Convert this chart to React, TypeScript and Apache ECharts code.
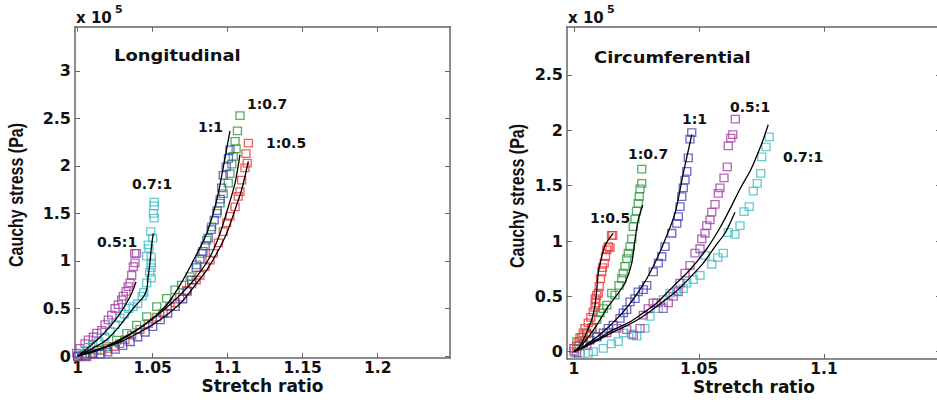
import React, { useEffect, useRef } from "react";
import * as echarts from "echarts";

// ---------- Tick values ----------
const leftXTicks = [1, 1.05, 1.1, 1.15, 1.2];
const leftYTicks = [0, 0.5, 1, 1.5, 2, 2.5, 3];
const rightXTicks = [1, 1.05, 1.1];
const rightYTicks = [0, 0.5, 1, 1.5, 2, 2.5];

// ---------- Longitudinal (stretch ratio, stress x1e5 Pa) ----------
const longMag_05_1 = [
  [0.9993, 0.03], [1.0015, 0.08], [1.003, 0.0], [1.0049, 0.13], [1.006, -0.01], [1.0071, 0.17],
  [1.0085, 0.02], [1.0104, 0.2], [1.0127, 0.24], [1.016, 0.27], [1.0182, 0.33], [1.0204, 0.38],
  [1.0227, 0.43], [1.0249, 0.5], [1.0271, 0.54], [1.0293, 0.59], [1.0304, 0.63], [1.0322, 0.68],
  [1.0337, 0.73], [1.0349, 0.77], [1.036, 0.85], [1.0371, 0.94], [1.0382, 0.98], [1.038, 1.08], [1.0392, 1.08],
];
const longFit_05_1 = [
  [1, 0], [1.005, 0.06], [1.01, 0.13], [1.015, 0.2], [1.0215, 0.31], [1.027, 0.42], [1.0325, 0.555], [1.036, 0.66], [1.0389, 0.78],
];
const longCyan_07_1 = [
  [1.0, -0.01], [1.003, 0.02], [1.006, 0.06], [1.01, 0.11], [1.014, 0.15], [1.018, 0.2], [1.0215, 0.26],
  [1.025, 0.33], [1.028, 0.4], [1.031, 0.44], [1.034, 0.5], [1.037, 0.52], [1.04, 0.55], [1.043, 0.63],
  [1.044, 0.67], [1.046, 0.77], [1.049, 0.82], [1.048, 0.88], [1.049, 0.93], [1.049, 0.98], [1.049, 1.04],
  [1.046, 1.05], [1.0475, 1.13], [1.047, 1.17], [1.05, 1.24], [1.0487, 1.31], [1.051, 1.45], [1.0505, 1.5],
  [1.051, 1.58], [1.051, 1.62],
];
const longFit_07_1 = [
  [1, 0], [1.01, 0.08], [1.0193, 0.17], [1.026, 0.28], [1.0325, 0.41], [1.0385, 0.53], [1.0437, 0.62],
  [1.046, 0.7], [1.047, 0.835], [1.048, 0.96], [1.0487, 1.08], [1.0495, 1.19], [1.0504, 1.29],
];
const longBlue_1_1 = [
  [1.0, 0.0], [1.005, 0.0], [1.01, 0.02], [1.015, 0.02], [1.02, 0.04], [1.025, 0.07], [1.03, 0.11],
  [1.035, 0.15], [1.04, 0.2], [1.045, 0.25], [1.05, 0.31], [1.055, 0.38], [1.06, 0.45], [1.065, 0.52],
  [1.07, 0.6], [1.073, 0.68], [1.076, 0.8], [1.079, 0.93], [1.0815, 1.02], [1.0835, 1.1], [1.085, 1.16],
  [1.087, 1.24], [1.089, 1.33], [1.091, 1.43], [1.093, 1.53], [1.095, 1.65], [1.096, 1.77], [1.097, 1.9],
  [1.099, 1.99], [1.1005, 2.08], [1.1015, 2.17],
];
const longFit_1_1 = [
  [1, 0], [1.01, 0.04], [1.02, 0.1], [1.03, 0.18], [1.04, 0.28], [1.05, 0.4], [1.055, 0.47], [1.06, 0.55],
  [1.068, 0.74], [1.077, 1.0], [1.086, 1.29], [1.0927, 1.64], [1.097, 1.98], [1.1015, 2.37],
];
const longGreen_1_07 = [
  [1.006, 0.028], [1.0127, 0.063], [1.0193, 0.098], [1.026, 0.168], [1.0327, 0.239], [1.0393, 0.326],
  [1.046, 0.414], [1.0527, 0.519], [1.0593, 0.607], [1.0649, 0.695], [1.0693, 0.747], [1.0749, 0.835],
  [1.0793, 0.958], [1.0827, 1.08], [1.086, 1.22], [1.0893, 1.36], [1.0927, 1.5], [1.0949, 1.61],
  [1.097, 1.71], [1.1004, 1.82], [1.1015, 1.92], [1.1027, 2.02], [1.1037, 2.1], [1.1056, 2.18],
  [1.1049, 2.26], [1.1065, 2.37], [1.1082, 2.53],
];
const longFit_1_07 = [
  [1, 0], [1.01, 0.05], [1.02, 0.11], [1.03, 0.19], [1.04, 0.28], [1.05, 0.39], [1.06, 0.52], [1.07, 0.67],
  [1.0793, 0.835], [1.0882, 1.045], [1.0949, 1.29], [1.1004, 1.57], [1.1049, 1.82], [1.1082, 2.12],
];
const longRed_1_05 = [
  [1.0, -0.01], [1.005, 0.01], [1.01, 0.03], [1.016, 0.06], [1.02, 0.08], [1.024, 0.1], [1.028, 0.13],
  [1.0315, 0.17], [1.036, 0.22], [1.0415, 0.28], [1.047, 0.34], [1.0527, 0.41], [1.057, 0.45],
  [1.0615, 0.52], [1.065, 0.56], [1.068, 0.62], [1.0727, 0.69], [1.076, 0.76], [1.079, 0.8],
  [1.0815, 0.85], [1.0849, 0.94], [1.0882, 1.01], [1.0904, 1.08], [1.0938, 1.19], [1.097, 1.31],
  [1.0993, 1.4], [1.1015, 1.47], [1.1049, 1.57], [1.107, 1.68], [1.1082, 1.73], [1.1093, 1.85],
  [1.1115, 1.98], [1.113, 2.03], [1.1122, 2.13], [1.1138, 2.24],
];
const longFit_1_05 = [
  [1, 0], [1.01, 0.05], [1.02, 0.1], [1.03, 0.16], [1.04, 0.24], [1.05, 0.33], [1.06, 0.44], [1.07, 0.58],
  [1.078, 0.74], [1.086, 0.905], [1.0927, 1.08], [1.0993, 1.29], [1.1049, 1.54], [1.1093, 1.75], [1.1138, 2.05],
];

// ---------- Circumferential ----------
const circRed_1_05 = [
  [1.0, 0.0], [1.0011, 0.05], [1.002, 0.09], [1.0024, 0.13], [1.0037, 0.17], [1.0044, 0.21], [1.005, 0.16],
  [1.0057, 0.26], [1.0067, 0.31], [1.0072, 0.22], [1.0077, 0.36], [1.0084, 0.4], [1.0088, 0.44],
  [1.0085, 0.48], [1.0091, 0.51], [1.0097, 0.53], [1.0101, 0.59], [1.0106, 0.66], [1.0111, 0.72],
  [1.0114, 0.76], [1.0121, 0.8], [1.0126, 0.86], [1.0131, 0.92], [1.0137, 0.95], [1.0144, 0.94],
  [1.015, 1.05], [1.0155, 1.05],
];
const circFit_1_05 = [
  [1, 0], [1.002, 0.04], [1.0044, 0.14], [1.0071, 0.29], [1.0084, 0.42], [1.0091, 0.56], [1.0097, 0.71],
  [1.0111, 0.86], [1.0124, 0.96], [1.014, 1.02], [1.0157, 1.07],
];
const circGreen_1_07 = [
  [1.0011, 0.09], [1.002, 0.05], [1.0031, 0.13], [1.0051, 0.17], [1.0071, 0.21], [1.0091, 0.29],
  [1.0104, 0.35], [1.0117, 0.39], [1.0131, 0.42], [1.0151, 0.53], [1.0164, 0.51], [1.018, 0.6],
  [1.0191, 0.66], [1.0197, 0.71], [1.0204, 0.77], [1.0211, 0.84], [1.0217, 0.89], [1.0224, 0.95],
  [1.0231, 1.02], [1.0237, 1.13], [1.0244, 1.2], [1.025, 1.27], [1.0257, 1.34], [1.0261, 1.4],
  [1.0264, 1.47], [1.0271, 1.52], [1.0271, 1.65],
];
const circFit_1_07 = [
  [1, 0], [1.0037, 0.075], [1.0091, 0.24], [1.0131, 0.39], [1.0171, 0.51], [1.0204, 0.62], [1.0231, 0.8],
  [1.0244, 1.01], [1.0257, 1.19], [1.0275, 1.325],
];
const circBlue_1_1 = [
  [1.0, 0.03], [1.0037, 0.075], [1.0064, 0.105], [1.0091, 0.135], [1.0117, 0.17], [1.0137, 0.21],
  [1.0157, 0.24], [1.0184, 0.3], [1.0197, 0.35], [1.0211, 0.38], [1.0224, 0.45], [1.0244, 0.48],
  [1.0257, 0.54], [1.0277, 0.56], [1.0291, 0.6], [1.0317, 0.72], [1.0337, 0.8], [1.0351, 0.86],
  [1.0364, 0.95], [1.0391, 1.07], [1.0411, 1.16], [1.0417, 1.22], [1.0424, 1.31], [1.0431, 1.4],
  [1.0437, 1.48], [1.0444, 1.55], [1.0451, 1.63], [1.0457, 1.75], [1.0464, 1.92], [1.0471, 1.98],
];
const circFit_1_1 = [
  [1, 0], [1.0037, 0.045], [1.0117, 0.18], [1.0197, 0.36], [1.0264, 0.56], [1.0317, 0.77], [1.0364, 1.01],
  [1.0404, 1.25], [1.0437, 1.61], [1.0471, 1.96],
];
const circMag_05_1 = [
  [1.0011, -0.01], [1.0051, 0.06], [1.0091, 0.135], [1.0131, 0.17], [1.0171, 0.21], [1.0211, 0.2],
  [1.0237, 0.15], [1.0264, 0.21], [1.0277, 0.33], [1.0297, 0.39], [1.0317, 0.44], [1.0331, 0.44],
  [1.0357, 0.39], [1.0377, 0.44], [1.0397, 0.5], [1.0417, 0.54], [1.0424, 0.62], [1.0444, 0.71],
  [1.0464, 0.78], [1.0484, 0.89], [1.0504, 0.93], [1.0511, 1.02], [1.0524, 1.07], [1.0531, 1.14],
  [1.0544, 1.19], [1.0551, 1.26], [1.0564, 1.33], [1.0577, 1.43], [1.0584, 1.48], [1.06, 1.57],
  [1.0613, 1.67], [1.0617, 1.86], [1.0627, 1.93], [1.0635, 1.96], [1.0645, 2.1],
];
const circCyan_07_1 = [
  [1.0004, -0.03], [1.0024, -0.015], [1.0057, -0.015], [1.0077, 0.0], [1.0117, 0.03], [1.015, 0.07],
  [1.0177, 0.09], [1.0197, 0.17], [1.023, 0.16], [1.0251, 0.14], [1.0284, 0.21], [1.0304, 0.32],
  [1.0337, 0.39], [1.0357, 0.47], [1.0384, 0.53], [1.041, 0.55], [1.0437, 0.57], [1.0451, 0.62],
  [1.0477, 0.65], [1.0504, 0.69], [1.0524, 0.87], [1.0551, 0.79], [1.0575, 0.85], [1.0597, 0.89],
  [1.0617, 1.075], [1.0644, 1.06], [1.0664, 1.14], [1.068, 1.265], [1.0701, 1.31], [1.0717, 1.45],
  [1.0733, 1.52], [1.0747, 1.61], [1.0751, 1.76], [1.0768, 1.85], [1.0781, 1.94],
];
const circFitA = [
  [1, 0], [1.005, 0.06], [1.01, 0.12], [1.015, 0.19], [1.0224, 0.27], [1.0264, 0.33], [1.0331, 0.44],
  [1.0397, 0.59], [1.0464, 0.74], [1.0531, 0.93], [1.0584, 1.12], [1.0624, 1.29], [1.0664, 1.47],
  [1.0704, 1.63], [1.0724, 1.73], [1.0751, 1.88], [1.0777, 2.05],
];
const circFitB = [
  [1, 0], [1.005, 0.05], [1.01, 0.11], [1.015, 0.17], [1.0224, 0.25], [1.0277, 0.32], [1.0344, 0.43],
  [1.0411, 0.55], [1.0464, 0.67], [1.0517, 0.8], [1.0564, 0.95], [1.0604, 1.07], [1.0624, 1.16], [1.0644, 1.26],
];

const RED = "#e8383c";
const GREEN = "#2e9a3e";
const BLUE = "#4646bc";
const CYAN = "#3fbfc6";
const MAGENTA = "#a43fa8";
const AXIS = "#666";
const TXT = "#111";
const FONT = '"DejaVu Sans", sans-serif';
const ARIAL = '"Liberation Sans", Arial, sans-serif';

function scatter(name: string, data: number[][], color: string, xi: number, yi: number) {
  return {
    type: "scatter", name, data, xAxisIndex: xi, yAxisIndex: yi,
    symbol: "rect", symbolSize: [8, 7.5], silent: true, z: 2,
    itemStyle: { color: "rgba(0,0,0,0)", borderColor: color, borderWidth: 1.3 },
  };
}
function fit(name: string, data: number[][], xi: number, yi: number) {
  return {
    type: "line", name, data, xAxisIndex: xi, yAxisIndex: yi,
    showSymbol: false, symbol: "none", smooth: 0.25, silent: true, z: 3,
    lineStyle: { color: "#000", width: 1.3 },
  };
}

function xAxis(gridIndex: number, min: number, max: number, ticks: number[], position: string, main: boolean) {
  return {
    type: "value", gridIndex, min, max, position,
    axisLine: { show: true, onZero: false, lineStyle: { color: AXIS, width: 1.5 } },
    axisTick: { show: true, inside: true, length: 5, customValues: ticks, lineStyle: { color: AXIS } },
    axisLabel: {
      show: main, customValues: ticks, margin: 2, color: TXT, lineHeight: 15,
      fontFamily: FONT, fontWeight: "bold", fontSize: 15.5,
    },
    splitLine: { show: false },
    name: main ? "Stretch ratio" : "",
    nameLocation: "middle", nameGap: 19, nameMoveOverlap: false,
    nameTextStyle: { color: TXT, fontFamily: FONT, fontWeight: "bold", fontSize: 17, lineHeight: 17 },
  };
}
function yAxis(gridIndex: number, min: number, max: number, ticks: number[], position: string, main: boolean) {
  return {
    type: "value", gridIndex, min, max, position,
    axisLine: { show: true, onZero: false, lineStyle: { color: AXIS, width: 1.5 } },
    axisTick: { show: true, inside: true, length: 5, customValues: ticks, lineStyle: { color: AXIS } },
    axisLabel: {
      show: main, customValues: ticks, margin: 4, color: TXT,
      fontFamily: FONT, fontWeight: "bold", fontSize: 16,
    },
    splitLine: { show: false },
  };
}

function label(text: string, x: number, y: number, size = 14, scaleX = 1) {
  return {
    type: "text", x, y, scaleX, silent: true,
    style: { text, fill: TXT, font: `bold ${size}px ${FONT}`, align: "left", verticalAlign: "middle" },
  };
}
function yName(x: number, y: number) {
  return {
    type: "text", x, y, rotation: Math.PI / 2, scaleY: 1.25, silent: true,
    style: { text: "Cauchy stress (Pa)", fill: TXT, font: `bold 16px ${ARIAL}`, align: "center", verticalAlign: "middle" },
  };
}
function expo(x: number) {
  return [
    { type: "text", x, y: 18, silent: true,
      style: { text: "x 10", fill: TXT, font: `bold 15px ${FONT}`, align: "left", verticalAlign: "middle" } },
    { type: "text", x: x + 39, y: 9, silent: true,
      style: { text: "5", fill: TXT, font: `bold 11px ${FONT}`, align: "left", verticalAlign: "middle" } },
  ];
}

export default function App() {
  const ref = useRef<HTMLDivElement>(null);
  useEffect(() => {
    document.body.style.margin = "0";
    const chart = echarts.init(ref.current!, null, { renderer: "svg" });
    const LXmin = 0.9982, LXmax = 1.2482, LYmin = -0.021, LYmax = 3.466;
    const RXmin = 0.9972, RXmax = 1.1468, RYmin = -0.066, RYmax = 2.936;
    chart.setOption({
      animation: false,
      backgroundColor: "#fff",
      grid: [
        { left: 75, top: 26.7, width: 375, height: 331.3, outerBoundsMode: "none" },
        { left: 567, top: 26.7, width: 374, height: 332.3, outerBoundsMode: "none" },
      ],
      xAxis: [
        xAxis(0, LXmin, LXmax, leftXTicks, "bottom", true),
        xAxis(0, LXmin, LXmax, leftXTicks, "top", false),
        xAxis(1, RXmin, RXmax, rightXTicks, "bottom", true),
        xAxis(1, RXmin, RXmax, rightXTicks, "top", false),
      ],
      yAxis: [
        yAxis(0, LYmin, LYmax, leftYTicks, "left", true),
        yAxis(0, LYmin, LYmax, leftYTicks, "right", false),
        yAxis(1, RYmin, RYmax, rightYTicks, "left", true),
        yAxis(1, RYmin, RYmax, rightYTicks, "right", false),
      ],
      series: [
        scatter("0.5:1", longMag_05_1, MAGENTA, 0, 0),
        scatter("0.7:1", longCyan_07_1, CYAN, 0, 0),
        scatter("1:0.5", longRed_1_05, RED, 0, 0),
        scatter("1:0.7", longGreen_1_07, GREEN, 0, 0),
        scatter("1:1", longBlue_1_1, BLUE, 0, 0),
        fit("fit 0.5:1", longFit_05_1, 0, 0),
        fit("fit 0.7:1", longFit_07_1, 0, 0),
        fit("fit 1:1", longFit_1_1, 0, 0),
        fit("fit 1:0.7", longFit_1_07, 0, 0),
        fit("fit 1:0.5", longFit_1_05, 0, 0),
        scatter("c 0.7:1", circCyan_07_1, CYAN, 2, 2),
        scatter("c 0.5:1", circMag_05_1, MAGENTA, 2, 2),
        scatter("c 1:1", circBlue_1_1, BLUE, 2, 2),
        scatter("c 1:0.7", circGreen_1_07, GREEN, 2, 2),
        scatter("c 1:0.5", circRed_1_05, RED, 2, 2),
        fit("c fit 1:0.5", circFit_1_05, 2, 2),
        fit("c fit 1:0.7", circFit_1_07, 2, 2),
        fit("c fit 1:1", circFit_1_1, 2, 2),
        fit("c fit A", circFitA, 2, 2),
        fit("c fit B", circFitB, 2, 2),
      ],
      graphic: [
        ...expo(76),
        ...expo(568),
        yName(16.5, 195),
        yName(517.5, 196),
        label("Longitudinal", 114, 55, 16, 1.12),
        label("1:0.7", 247, 104),
        label("1:1", 198, 127),
        label("1:0.5", 266, 143),
        label("0.7:1", 132, 184),
        label("0.5:1", 97, 242),
        label("Circumferential", 594, 57, 16, 1.12),
        label("0.5:1", 730, 107),
        label("1:1", 682, 119),
        label("1:0.7", 628, 154),
        label("0.7:1", 783, 157),
        label("1:0.5", 590, 218),
      ],
    });
    return () => chart.dispose();
  }, []);
  return <div ref={ref} style={{ width: 937, height: 402 }} />;
}
